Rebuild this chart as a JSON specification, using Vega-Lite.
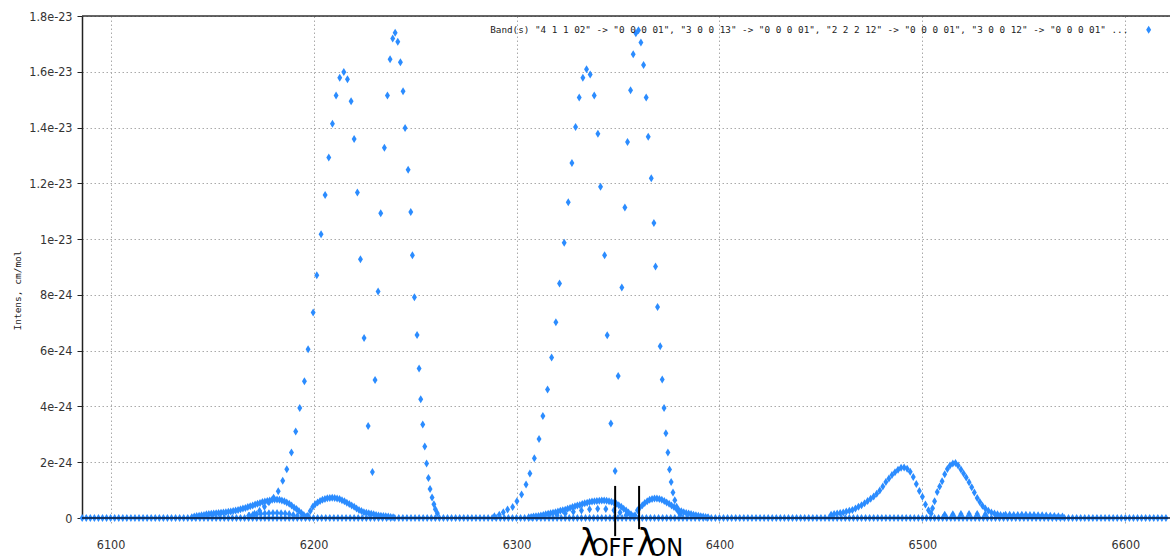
{
  "$schema": "https://vega.github.io/schema/vega-lite/v6.json",
  "autosize": "none",
  "width": 1088,
  "height": 502,
  "padding": {"left": 82, "top": 16, "right": 0, "bottom": 42},
  "background": "white",
  "config": {
    "view": {"stroke": null},
    "axis": {
      "labelFont": "Liberation Sans Narrow, DejaVu Sans Condensed, sans-serif",
      "labelFontSize": 12.5,
      "labelColor": "#333",
      "gridColor": "#aaa",
      "gridDash": [1.5, 2.5],
      "gridWidth": 1
    },
    "legend": {
      "orient": "none",
      "legendX": 1062,
      "legendY": 9,
      "padding": 0,
      "labelAlign": "right",
      "labelOffset": -25,
      "labelFont": "DejaVu Sans Mono",
      "labelFontSize": 9.3,
      "labelColor": "#222",
      "labelLimit": 2000,
      "symbolType": "M0,-1L0.62,0L0,1L-0.62,0Z",
      "symbolSize": 64,
      "symbolStrokeWidth": 0
    }
  },
  "datasets": {
    "baseline": [
      {"wn":6086,"intens":0},{"wn":6088,"intens":0},{"wn":6090,"intens":0},{"wn":6092,"intens":0},{"wn":6094,"intens":0},{"wn":6096,"intens":0},{"wn":6098,"intens":0},{"wn":6100,"intens":0},{"wn":6102,"intens":0},{"wn":6104,"intens":0},{"wn":6106,"intens":0},{"wn":6108,"intens":0},{"wn":6110,"intens":0},{"wn":6112,"intens":0},{"wn":6114,"intens":0},{"wn":6116,"intens":0},{"wn":6118,"intens":0},{"wn":6120,"intens":0},{"wn":6122,"intens":0},{"wn":6124,"intens":0},{"wn":6126,"intens":0},{"wn":6128,"intens":0},{"wn":6130,"intens":0},{"wn":6132,"intens":0},{"wn":6134,"intens":0},{"wn":6136,"intens":0},{"wn":6138,"intens":0},{"wn":6140,"intens":0},{"wn":6142,"intens":0},{"wn":6144,"intens":0},{"wn":6146,"intens":0},{"wn":6148,"intens":0},{"wn":6150,"intens":0},{"wn":6152,"intens":0},{"wn":6154,"intens":0},{"wn":6156,"intens":0},{"wn":6158,"intens":0},{"wn":6160,"intens":0},{"wn":6162,"intens":0},{"wn":6164,"intens":0},{"wn":6166,"intens":0},{"wn":6168,"intens":0},{"wn":6170,"intens":0},{"wn":6172,"intens":0},{"wn":6174,"intens":0},{"wn":6176,"intens":0},{"wn":6178,"intens":0},{"wn":6180,"intens":0},{"wn":6182,"intens":0},{"wn":6184,"intens":0},{"wn":6186,"intens":0},{"wn":6188,"intens":0},{"wn":6190,"intens":0},{"wn":6192,"intens":0},{"wn":6194,"intens":0},{"wn":6196,"intens":0},{"wn":6198,"intens":0},{"wn":6200,"intens":0},{"wn":6202,"intens":0},{"wn":6204,"intens":0},{"wn":6206,"intens":0},{"wn":6208,"intens":0},{"wn":6210,"intens":0},{"wn":6212,"intens":0},{"wn":6214,"intens":0},{"wn":6216,"intens":0},{"wn":6218,"intens":0},{"wn":6220,"intens":0},{"wn":6222,"intens":0},{"wn":6224,"intens":0},{"wn":6226,"intens":0},{"wn":6228,"intens":0},{"wn":6230,"intens":0},{"wn":6232,"intens":0},{"wn":6234,"intens":0},{"wn":6236,"intens":0},{"wn":6238,"intens":0},{"wn":6240,"intens":0},{"wn":6242,"intens":0},{"wn":6244,"intens":0},{"wn":6246,"intens":0},{"wn":6248,"intens":0},{"wn":6250,"intens":0},{"wn":6252,"intens":0},{"wn":6254,"intens":0},{"wn":6256,"intens":0},{"wn":6258,"intens":0},{"wn":6260,"intens":0},{"wn":6262,"intens":0},{"wn":6264,"intens":0},{"wn":6266,"intens":0},{"wn":6268,"intens":0},{"wn":6270,"intens":0},{"wn":6272,"intens":0},{"wn":6274,"intens":0},{"wn":6276,"intens":0},{"wn":6278,"intens":0},{"wn":6280,"intens":0},{"wn":6282,"intens":0},{"wn":6284,"intens":0},{"wn":6286,"intens":0},{"wn":6288,"intens":0},{"wn":6290,"intens":0},{"wn":6292,"intens":0},{"wn":6294,"intens":0},{"wn":6296,"intens":0},{"wn":6298,"intens":0},{"wn":6300,"intens":0},{"wn":6302,"intens":0},{"wn":6304,"intens":0},{"wn":6306,"intens":0},{"wn":6308,"intens":0},{"wn":6310,"intens":0},{"wn":6312,"intens":0},{"wn":6314,"intens":0},{"wn":6316,"intens":0},{"wn":6318,"intens":0},{"wn":6320,"intens":0},{"wn":6322,"intens":0},{"wn":6324,"intens":0},{"wn":6326,"intens":0},{"wn":6328,"intens":0},{"wn":6330,"intens":0},{"wn":6332,"intens":0},{"wn":6334,"intens":0},{"wn":6336,"intens":0},{"wn":6338,"intens":0},{"wn":6340,"intens":0},{"wn":6342,"intens":0},{"wn":6344,"intens":0},{"wn":6346,"intens":0},{"wn":6348,"intens":0},{"wn":6350,"intens":0},{"wn":6352,"intens":0},{"wn":6354,"intens":0},{"wn":6356,"intens":0},{"wn":6358,"intens":0},{"wn":6360,"intens":0},{"wn":6362,"intens":0},{"wn":6364,"intens":0},{"wn":6366,"intens":0},{"wn":6368,"intens":0},{"wn":6370,"intens":0},{"wn":6372,"intens":0},{"wn":6374,"intens":0},{"wn":6376,"intens":0},{"wn":6378,"intens":0},{"wn":6380,"intens":0},{"wn":6382,"intens":0},{"wn":6384,"intens":0},{"wn":6386,"intens":0},{"wn":6388,"intens":0},{"wn":6390,"intens":0},{"wn":6392,"intens":0},{"wn":6394,"intens":0},{"wn":6396,"intens":0},{"wn":6398,"intens":0},{"wn":6400,"intens":0},{"wn":6402,"intens":0},{"wn":6404,"intens":0},{"wn":6406,"intens":0},{"wn":6408,"intens":0},{"wn":6410,"intens":0},{"wn":6412,"intens":0},{"wn":6414,"intens":0},{"wn":6416,"intens":0},{"wn":6418,"intens":0},{"wn":6420,"intens":0},{"wn":6422,"intens":0},{"wn":6424,"intens":0},{"wn":6426,"intens":0},{"wn":6428,"intens":0},{"wn":6430,"intens":0},{"wn":6432,"intens":0},{"wn":6434,"intens":0},{"wn":6436,"intens":0},{"wn":6438,"intens":0},{"wn":6440,"intens":0},{"wn":6442,"intens":0},{"wn":6444,"intens":0},{"wn":6446,"intens":0},{"wn":6448,"intens":0},{"wn":6450,"intens":0},{"wn":6452,"intens":0},{"wn":6454,"intens":0},{"wn":6456,"intens":0},{"wn":6458,"intens":0},{"wn":6460,"intens":0},{"wn":6462,"intens":0},{"wn":6464,"intens":0},{"wn":6466,"intens":0},{"wn":6468,"intens":0},{"wn":6470,"intens":0},{"wn":6472,"intens":0},{"wn":6474,"intens":0},{"wn":6476,"intens":0},{"wn":6478,"intens":0},{"wn":6480,"intens":0},{"wn":6482,"intens":0},{"wn":6484,"intens":0},{"wn":6486,"intens":0},{"wn":6488,"intens":0},{"wn":6490,"intens":0},{"wn":6492,"intens":0},{"wn":6494,"intens":0},{"wn":6496,"intens":0},{"wn":6498,"intens":0},{"wn":6500,"intens":0},{"wn":6502,"intens":0},{"wn":6504,"intens":0},{"wn":6506,"intens":0},{"wn":6508,"intens":0},{"wn":6510,"intens":0},{"wn":6512,"intens":0},{"wn":6514,"intens":0},{"wn":6516,"intens":0},{"wn":6518,"intens":0},{"wn":6520,"intens":0},{"wn":6522,"intens":0},{"wn":6524,"intens":0},{"wn":6526,"intens":0},{"wn":6528,"intens":0},{"wn":6530,"intens":0},{"wn":6532,"intens":0},{"wn":6534,"intens":0},{"wn":6536,"intens":0},{"wn":6538,"intens":0},{"wn":6540,"intens":0},{"wn":6542,"intens":0},{"wn":6544,"intens":0},{"wn":6546,"intens":0},{"wn":6548,"intens":0},{"wn":6550,"intens":0},{"wn":6552,"intens":0},{"wn":6554,"intens":0},{"wn":6556,"intens":0},{"wn":6558,"intens":0},{"wn":6560,"intens":0},{"wn":6562,"intens":0},{"wn":6564,"intens":0},{"wn":6566,"intens":0},{"wn":6568,"intens":0},{"wn":6570,"intens":0},{"wn":6572,"intens":0},{"wn":6574,"intens":0},{"wn":6576,"intens":0},{"wn":6578,"intens":0},{"wn":6580,"intens":0},{"wn":6582,"intens":0},{"wn":6584,"intens":0},{"wn":6586,"intens":0},{"wn":6588,"intens":0},{"wn":6590,"intens":0},{"wn":6592,"intens":0},{"wn":6594,"intens":0},{"wn":6596,"intens":0},{"wn":6598,"intens":0},{"wn":6600,"intens":0},{"wn":6602,"intens":0},{"wn":6604,"intens":0},{"wn":6606,"intens":0},{"wn":6608,"intens":0},{"wn":6610,"intens":0},{"wn":6612,"intens":0},{"wn":6614,"intens":0},{"wn":6616,"intens":0},{"wn":6618,"intens":0},{"wn":6620,"intens":0}
    ],
    "lines": [
      {"wn":6140.0,"intens":0.03e-24},{"wn":6141.2,"intens":0.05e-24},{"wn":6142.4,"intens":0.07e-24},{"wn":6143.6,"intens":0.08e-24},{"wn":6144.8,"intens":0.10e-24},{"wn":6146.0,"intens":0.11e-24},{"wn":6147.2,"intens":0.13e-24},{"wn":6148.4,"intens":0.14e-24},{"wn":6149.6,"intens":0.15e-24},{"wn":6150.8,"intens":0.16e-24},{"wn":6152.0,"intens":0.17e-24},{"wn":6153.2,"intens":0.18e-24},{"wn":6154.4,"intens":0.19e-24},{"wn":6155.6,"intens":0.20e-24},{"wn":6156.8,"intens":0.21e-24},{"wn":6158.0,"intens":0.22e-24},{"wn":6159.2,"intens":0.23e-24},{"wn":6160.4,"intens":0.25e-24},{"wn":6161.6,"intens":0.27e-24},{"wn":6162.8,"intens":0.29e-24},{"wn":6164.0,"intens":0.31e-24},{"wn":6165.2,"intens":0.34e-24},{"wn":6166.4,"intens":0.36e-24},{"wn":6167.6,"intens":0.39e-24},{"wn":6168.8,"intens":0.42e-24},{"wn":6170.0,"intens":0.45e-24},{"wn":6171.2,"intens":0.48e-24},{"wn":6172.4,"intens":0.51e-24},{"wn":6173.6,"intens":0.54e-24},{"wn":6174.8,"intens":0.57e-24},{"wn":6176.0,"intens":0.59e-24},{"wn":6177.2,"intens":0.61e-24},{"wn":6178.4,"intens":0.63e-24},{"wn":6179.6,"intens":0.65e-24},{"wn":6180.8,"intens":0.66e-24},{"wn":6182.0,"intens":0.66e-24},{"wn":6183.2,"intens":0.65e-24},{"wn":6184.4,"intens":0.63e-24},{"wn":6185.6,"intens":0.60e-24},{"wn":6186.8,"intens":0.56e-24},{"wn":6188.0,"intens":0.51e-24},{"wn":6189.2,"intens":0.45e-24},{"wn":6190.4,"intens":0.38e-24},{"wn":6191.6,"intens":0.32e-24},{"wn":6192.8,"intens":0.25e-24},{"wn":6194.0,"intens":0.18e-24},{"wn":6195.2,"intens":0.11e-24},{"wn":6196.4,"intens":0.05e-24},
      {"wn":6168,"intens":0.08e-24},{"wn":6170,"intens":0.11e-24},{"wn":6172,"intens":0.13e-24},{"wn":6174,"intens":0.15e-24},{"wn":6176,"intens":0.16e-24},{"wn":6178,"intens":0.17e-24},{"wn":6180,"intens":0.18e-24},{"wn":6182,"intens":0.18e-24},{"wn":6184,"intens":0.17e-24},{"wn":6186,"intens":0.16e-24},{"wn":6188,"intens":0.14e-24},{"wn":6190,"intens":0.11e-24},{"wn":6192,"intens":0.07e-24},
      {"wn":6197.2,"intens":0.08e-24},{"wn":6198.4,"intens":0.25e-24},{"wn":6199.6,"intens":0.40e-24},{"wn":6200.8,"intens":0.49e-24},{"wn":6202.0,"intens":0.56e-24},{"wn":6203.2,"intens":0.61e-24},{"wn":6204.4,"intens":0.65e-24},{"wn":6205.6,"intens":0.68e-24},{"wn":6206.8,"intens":0.71e-24},{"wn":6208.0,"intens":0.72e-24},{"wn":6209.2,"intens":0.73e-24},{"wn":6210.4,"intens":0.72e-24},{"wn":6211.6,"intens":0.70e-24},{"wn":6212.8,"intens":0.68e-24},{"wn":6214.0,"intens":0.64e-24},{"wn":6215.2,"intens":0.60e-24},{"wn":6216.4,"intens":0.55e-24},{"wn":6217.6,"intens":0.50e-24},{"wn":6218.8,"intens":0.45e-24},{"wn":6220.0,"intens":0.40e-24},{"wn":6221.2,"intens":0.34e-24},{"wn":6222.4,"intens":0.29e-24},{"wn":6223.6,"intens":0.25e-24},{"wn":6224.8,"intens":0.21e-24},{"wn":6226.0,"intens":0.19e-24},{"wn":6227.2,"intens":0.17e-24},{"wn":6228.4,"intens":0.15e-24},{"wn":6229.6,"intens":0.13e-24},{"wn":6230.8,"intens":0.11e-24},{"wn":6232.0,"intens":0.09e-24},{"wn":6233.2,"intens":0.08e-24},{"wn":6234.4,"intens":0.07e-24},{"wn":6235.6,"intens":0.06e-24},{"wn":6236.8,"intens":0.05e-24},{"wn":6238.0,"intens":0.04e-24},{"wn":6239.2,"intens":0.03e-24},
      {"wn":6168.4,"intens":0.079e-24},{"wn":6170.9,"intens":0.151e-24},{"wn":6173.4,"intens":0.258e-24},{"wn":6175.8,"intens":0.402e-24},{"wn":6178.0,"intens":0.563e-24},{"wn":6180.3,"intens":0.724e-24},{"wn":6182.6,"intens":0.957e-24},{"wn":6184.8,"intens":1.334e-24},{"wn":6186.8,"intens":1.746e-24},{"wn":6189.1,"intens":2.345e-24},{"wn":6191.2,"intens":3.098e-24},{"wn":6193.2,"intens":3.944e-24},{"wn":6195.5,"intens":4.901e-24},{"wn":6197.3,"intens":6.049e-24},{"wn":6199.8,"intens":7.365e-24},{"wn":6201.6,"intens":8.702e-24},{"wn":6203.7,"intens":10.17e-24},{"wn":6205.7,"intens":11.58e-24},{"wn":6207.5,"intens":12.93e-24},{"wn":6209.3,"intens":14.14e-24},{"wn":6211.1,"intens":15.15e-24},{"wn":6212.9,"intens":15.79e-24},{"wn":6214.9,"intens":15.99e-24},{"wn":6216.7,"intens":15.73e-24},{"wn":6218.5,"intens":14.94e-24},{"wn":6220.0,"intens":13.59e-24},{"wn":6221.6,"intens":11.67e-24},{"wn":6223.1,"intens":9.276e-24},{"wn":6224.9,"intens":6.454e-24},{"wn":6226.9,"intens":3.299e-24},
      {"wn":6229.0,"intens":1.649e-24},{"wn":6230.3,"intens":4.948e-24},{"wn":6231.8,"intens":8.118e-24},{"wn":6233.1,"intens":10.93e-24},{"wn":6234.9,"intens":13.28e-24},{"wn":6236.4,"intens":15.15e-24},{"wn":6237.7,"intens":16.45e-24},{"wn":6239.0,"intens":17.19e-24},{"wn":6240.2,"intens":17.40e-24},{"wn":6241.5,"intens":17.08e-24},{"wn":6242.8,"intens":16.34e-24},{"wn":6244.1,"intens":15.30e-24},{"wn":6245.1,"intens":13.98e-24},{"wn":6246.6,"intens":12.49e-24},{"wn":6247.9,"intens":10.97e-24},{"wn":6248.7,"intens":9.419e-24},{"wn":6249.7,"intens":7.913e-24},{"wn":6251.0,"intens":6.561e-24},{"wn":6252.0,"intens":5.357e-24},{"wn":6252.8,"intens":4.256e-24},{"wn":6253.8,"intens":3.349e-24},{"wn":6254.8,"intens":2.560e-24},{"wn":6255.7,"intens":1.950e-24},{"wn":6256.6,"intens":1.434e-24},{"wn":6257.4,"intens":1.040e-24},{"wn":6258.4,"intens":0.731e-24},{"wn":6259.3,"intens":0.491e-24},{"wn":6260.0,"intens":0.312e-24},{"wn":6261.0,"intens":0.169e-24},
      {"wn":6306.0,"intens":0.03e-24},{"wn":6307.2,"intens":0.04e-24},{"wn":6308.4,"intens":0.05e-24},{"wn":6309.6,"intens":0.06e-24},{"wn":6310.8,"intens":0.07e-24},{"wn":6312.0,"intens":0.09e-24},{"wn":6313.2,"intens":0.11e-24},{"wn":6314.4,"intens":0.13e-24},{"wn":6315.6,"intens":0.15e-24},{"wn":6316.8,"intens":0.17e-24},{"wn":6318.0,"intens":0.19e-24},{"wn":6319.2,"intens":0.21e-24},{"wn":6320.4,"intens":0.23e-24},{"wn":6321.6,"intens":0.26e-24},{"wn":6322.8,"intens":0.28e-24},{"wn":6324.0,"intens":0.30e-24},{"wn":6325.2,"intens":0.33e-24},{"wn":6326.4,"intens":0.36e-24},{"wn":6327.6,"intens":0.39e-24},{"wn":6328.8,"intens":0.42e-24},{"wn":6330.0,"intens":0.45e-24},{"wn":6331.2,"intens":0.47e-24},{"wn":6332.4,"intens":0.50e-24},{"wn":6333.6,"intens":0.53e-24},{"wn":6334.8,"intens":0.55e-24},{"wn":6336.0,"intens":0.57e-24},{"wn":6337.2,"intens":0.59e-24},{"wn":6338.4,"intens":0.60e-24},{"wn":6339.6,"intens":0.61e-24},{"wn":6340.8,"intens":0.62e-24},{"wn":6342.0,"intens":0.63e-24},{"wn":6343.2,"intens":0.63e-24},{"wn":6344.4,"intens":0.62e-24},{"wn":6345.6,"intens":0.60e-24},{"wn":6346.8,"intens":0.58e-24},{"wn":6348.0,"intens":0.55e-24},{"wn":6349.2,"intens":0.51e-24},{"wn":6350.4,"intens":0.46e-24},{"wn":6351.6,"intens":0.40e-24},{"wn":6352.8,"intens":0.33e-24},{"wn":6354.0,"intens":0.27e-24},{"wn":6355.2,"intens":0.20e-24},{"wn":6356.4,"intens":0.13e-24},{"wn":6357.4,"intens":0.07e-24},
      {"wn":6320,"intens":0.10e-24},{"wn":6324,"intens":0.16e-24},{"wn":6328,"intens":0.22e-24},{"wn":6332,"intens":0.27e-24},{"wn":6336,"intens":0.31e-24},{"wn":6340,"intens":0.33e-24},{"wn":6344,"intens":0.32e-24},{"wn":6348,"intens":0.28e-24},{"wn":6351,"intens":0.20e-24},{"wn":6354,"intens":0.10e-24},
      {"wn":6358.4,"intens":0.10e-24},{"wn":6359.6,"intens":0.28e-24},{"wn":6360.8,"intens":0.38e-24},{"wn":6362.0,"intens":0.46e-24},{"wn":6363.2,"intens":0.54e-24},{"wn":6364.4,"intens":0.60e-24},{"wn":6365.6,"intens":0.65e-24},{"wn":6366.8,"intens":0.68e-24},{"wn":6368.0,"intens":0.70e-24},{"wn":6369.2,"intens":0.70e-24},{"wn":6370.4,"intens":0.68e-24},{"wn":6371.6,"intens":0.65e-24},{"wn":6372.8,"intens":0.61e-24},{"wn":6374.0,"intens":0.56e-24},{"wn":6375.2,"intens":0.51e-24},{"wn":6376.4,"intens":0.45e-24},{"wn":6377.6,"intens":0.39e-24},{"wn":6378.8,"intens":0.33e-24},{"wn":6380.0,"intens":0.28e-24},{"wn":6381.2,"intens":0.24e-24},{"wn":6382.4,"intens":0.21e-24},{"wn":6383.6,"intens":0.18e-24},{"wn":6384.8,"intens":0.16e-24},{"wn":6386.0,"intens":0.14e-24},{"wn":6387.2,"intens":0.12e-24},{"wn":6388.4,"intens":0.10e-24},{"wn":6389.6,"intens":0.08e-24},{"wn":6390.8,"intens":0.06e-24},{"wn":6392.0,"intens":0.05e-24},{"wn":6393.2,"intens":0.04e-24},{"wn":6394.4,"intens":0.03e-24},
      {"wn":6289.1,"intens":0.061e-24},{"wn":6291.5,"intens":0.115e-24},{"wn":6293.5,"intens":0.204e-24},{"wn":6295.6,"intens":0.301e-24},{"wn":6298.1,"intens":0.394e-24},{"wn":6300.2,"intens":0.599e-24},{"wn":6302.5,"intens":0.839e-24},{"wn":6304.7,"intens":1.198e-24},{"wn":6306.6,"intens":1.592e-24},{"wn":6308.8,"intens":2.141e-24},{"wn":6311.1,"intens":2.833e-24},{"wn":6313.0,"intens":3.657e-24},{"wn":6315.3,"intens":4.604e-24},{"wn":6317.3,"intens":5.751e-24},{"wn":6319.4,"intens":7.017e-24},{"wn":6321.2,"intens":8.408e-24},{"wn":6323.5,"intens":9.874e-24},{"wn":6325.5,"intens":11.32e-24},{"wn":6327.3,"intens":12.73e-24},{"wn":6329.1,"intens":14.02e-24},{"wn":6330.9,"intens":15.08e-24},{"wn":6332.7,"intens":15.79e-24},{"wn":6334.5,"intens":16.09e-24},{"wn":6336.3,"intens":15.90e-24},{"wn":6338.3,"intens":15.15e-24},{"wn":6340.1,"intens":13.78e-24},{"wn":6341.4,"intens":11.88e-24},{"wn":6343.4,"intens":9.419e-24},{"wn":6344.7,"intens":6.551e-24},{"wn":6346.5,"intens":3.385e-24},
      {"wn":6348.6,"intens":1.685e-24},{"wn":6350.1,"intens":5.091e-24},{"wn":6351.9,"intens":8.261e-24},{"wn":6353.4,"intens":11.13e-24},{"wn":6354.7,"intens":13.48e-24},{"wn":6356.2,"intens":15.34e-24},{"wn":6357.5,"intens":16.63e-24},{"wn":6358.8,"intens":17.38e-24},{"wn":6360.1,"intens":17.49e-24},{"wn":6361.3,"intens":17.05e-24},{"wn":6362.6,"intens":16.24e-24},{"wn":6363.9,"intens":15.08e-24},{"wn":6364.9,"intens":13.67e-24},{"wn":6366.4,"intens":12.18e-24},{"wn":6367.7,"intens":10.58e-24},{"wn":6368.5,"intens":9.014e-24},{"wn":6369.5,"intens":7.565e-24},{"wn":6370.8,"intens":6.156e-24},{"wn":6371.8,"intens":4.962e-24},{"wn":6372.7,"intens":3.944e-24},{"wn":6373.6,"intens":3.037e-24},{"wn":6374.6,"intens":2.345e-24},{"wn":6375.4,"intens":1.735e-24},{"wn":6376.2,"intens":1.291e-24},{"wn":6377.1,"intens":0.911e-24},{"wn":6378.0,"intens":0.635e-24},{"wn":6378.9,"intens":0.402e-24},{"wn":6379.7,"intens":0.240e-24},{"wn":6380.7,"intens":0.115e-24},
      {"wn":6455.0,"intens":0.12e-24},{"wn":6456.5,"intens":0.14e-24},{"wn":6458.0,"intens":0.16e-24},{"wn":6459.5,"intens":0.18e-24},{"wn":6461.0,"intens":0.20e-24},{"wn":6462.5,"intens":0.23e-24},{"wn":6464.0,"intens":0.26e-24},{"wn":6465.5,"intens":0.29e-24},{"wn":6467.0,"intens":0.34e-24},{"wn":6468.5,"intens":0.40e-24},{"wn":6470.0,"intens":0.46e-24},{"wn":6471.5,"intens":0.53e-24},{"wn":6473.0,"intens":0.61e-24},{"wn":6474.5,"intens":0.69e-24},{"wn":6476.0,"intens":0.77e-24},{"wn":6477.5,"intens":0.87e-24},{"wn":6479.0,"intens":0.99e-24},{"wn":6480.5,"intens":1.13e-24},{"wn":6482.0,"intens":1.29e-24},{"wn":6483.5,"intens":1.42e-24},{"wn":6485.0,"intens":1.54e-24},{"wn":6486.5,"intens":1.64e-24},{"wn":6488.0,"intens":1.73e-24},{"wn":6489.5,"intens":1.80e-24},{"wn":6491.0,"intens":1.81e-24},{"wn":6492.5,"intens":1.77e-24},{"wn":6494.0,"intens":1.66e-24},{"wn":6495.5,"intens":1.47e-24},{"wn":6497.0,"intens":1.22e-24},{"wn":6498.5,"intens":0.97e-24},{"wn":6500.0,"intens":0.76e-24},{"wn":6501.5,"intens":0.48e-24},{"wn":6503.0,"intens":0.28e-24},{"wn":6504.3,"intens":0.16e-24},
      {"wn":6505.0,"intens":0.35e-24},{"wn":6506.0,"intens":0.60e-24},{"wn":6507.3,"intens":0.93e-24},{"wn":6508.5,"intens":1.13e-24},{"wn":6509.7,"intens":1.32e-24},{"wn":6511.0,"intens":1.57e-24},{"wn":6512.3,"intens":1.76e-24},{"wn":6513.6,"intens":1.88e-24},{"wn":6515.0,"intens":1.95e-24},{"wn":6516.3,"intens":1.97e-24},{"wn":6517.6,"intens":1.88e-24},{"wn":6519.0,"intens":1.74e-24},{"wn":6520.3,"intens":1.60e-24},{"wn":6521.6,"intens":1.45e-24},{"wn":6523.0,"intens":1.28e-24},{"wn":6524.3,"intens":1.10e-24},{"wn":6525.6,"intens":0.91e-24},{"wn":6527.0,"intens":0.72e-24},{"wn":6528.3,"intens":0.57e-24},{"wn":6529.6,"intens":0.44e-24},{"wn":6531.0,"intens":0.34e-24},{"wn":6532.5,"intens":0.26e-24},{"wn":6534.0,"intens":0.20e-24},{"wn":6535.5,"intens":0.16e-24},{"wn":6537.0,"intens":0.13e-24},{"wn":6538.5,"intens":0.11e-24},{"wn":6540.0,"intens":0.09e-24},
      {"wn":6511,"intens":0.12e-24},{"wn":6515,"intens":0.13e-24},{"wn":6519,"intens":0.14e-24},{"wn":6523,"intens":0.14e-24},{"wn":6527,"intens":0.14e-24},{"wn":6531,"intens":0.13e-24},{"wn":6541,"intens":0.12e-24},{"wn":6543,"intens":0.12e-24},{"wn":6545,"intens":0.11e-24},{"wn":6547,"intens":0.11e-24},{"wn":6549,"intens":0.12e-24},{"wn":6551,"intens":0.12e-24},{"wn":6553,"intens":0.11e-24},{"wn":6555,"intens":0.11e-24},{"wn":6557,"intens":0.10e-24},{"wn":6559,"intens":0.10e-24},{"wn":6561,"intens":0.09e-24},{"wn":6563,"intens":0.08e-24},{"wn":6565,"intens":0.07e-24},{"wn":6567,"intens":0.06e-24},{"wn":6569,"intens":0.05e-24}
    ],
    "markers": [
      {"name":"OFF","wn":6348.6,"top":1.15e-24,"bottom":-0.65e-24},
      {"name":"ON","wn":6360.4,"top":1.15e-24,"bottom":-0.40e-24}
    ],
    "markerText": [
      {"text":"λ","part":"lambda","wn":6335.7,"intens":-1.36e-24},
      {"text":"OFF","part":"sub","wn":6347.4,"intens":-1.36e-24},
      {"text":"λ","part":"lambda","wn":6364.1,"intens":-1.36e-24},
      {"text":"ON","part":"sub","wn":6373.6,"intens":-1.36e-24}
    ]
  },
  "layer": [
    {
      "data": {"name": "baseline"},
      "mark": {"type": "point", "shape": "M0,-1L0.62,0L0,1L-0.62,0Z", "filled": true, "size": 64, "opacity": 1},
      "encoding": {
        "x": {"field": "wn", "type": "quantitative", "scale": {"domain": [6085.9, 6622.0], "nice": false, "zero": false},
          "axis": {"title": null, "values": [6100, 6200, 6300, 6400, 6500, 6600], "format": "d", "domain": false, "tickSize": 5, "tickColor": "#aaa", "tickDash": [1.5, 2], "labelPadding": 15, "grid": true}},
        "y": {"field": "intens", "type": "quantitative", "scale": {"domain": [0, 1.8e-23], "nice": false},
          "axis": {"title": "Intens, cm/mol", "titleFont": "DejaVu Sans Mono", "titleFontSize": 9.5, "titleFontWeight": "normal", "titleColor": "#222", "titleX": -60, "titleY": 274,
            "values": [0, 2e-24, 4e-24, 6e-24, 8e-24, 1e-23, 1.2e-23, 1.4e-23, 1.6e-23, 1.8e-23],
            "labelExpr": "datum.value === 0 ? '0' : format(datum.value, '.2~e')",
            "domainColor": "#222", "domainWidth": 1.5, "tickColor": "#222", "tickSize": 5, "labelPadding": 5, "grid": true}},
        "color": {"datum": "Band(s) \"4 1 1 02\" -> \"0 0 0 01\", \"3 0 0 13\" -> \"0 0 0 01\", \"2 2 2 12\" -> \"0 0 0 01\", \"3 0 0 12\" -> \"0 0 0 01\" ...", "type": "nominal", "scale": {"range": ["#2b8cff"]}, "legend": {"title": null}}
      }
    },
    {
      "data": {"name": "lines"},
      "mark": {"type": "point", "shape": "M0,-1L0.62,0L0,1L-0.62,0Z", "filled": true, "size": 64, "opacity": 1},
      "encoding": {
        "x": {"field": "wn", "type": "quantitative"},
        "y": {"field": "intens", "type": "quantitative"},
        "color": {"datum": "Band(s) \"4 1 1 02\" -> \"0 0 0 01\", \"3 0 0 13\" -> \"0 0 0 01\", \"2 2 2 12\" -> \"0 0 0 01\", \"3 0 0 12\" -> \"0 0 0 01\" ...", "type": "nominal"}
      }
    },
    {
      "data": {"values": [{}]},
      "mark": {"type": "rule", "color": "#0a1630", "strokeWidth": 1.5},
      "encoding": {"y": {"datum": 0}}
    },
    {
      "data": {"values": [{}]},
      "mark": {"type": "rule", "color": "#333", "strokeWidth": 1.5},
      "encoding": {"y": {"datum": 1.8e-23}}
    },
    {
      "data": {"name": "markers"},
      "mark": {"type": "rule", "color": "#000", "strokeWidth": 2},
      "encoding": {
        "x": {"field": "wn", "type": "quantitative"},
        "y": {"field": "top", "type": "quantitative"},
        "y2": {"field": "bottom"}
      }
    },
    {
      "data": {"name": "markerText"},
      "mark": {"type": "text", "font": "Liberation Sans Narrow, DejaVu Sans Condensed, sans-serif", "baseline": "alphabetic", "align": "center", "color": "#000"},
      "encoding": {
        "x": {"field": "wn", "type": "quantitative"},
        "y": {"field": "intens", "type": "quantitative"},
        "text": {"field": "text"},
        "size": {"field": "part", "type": "nominal", "scale": {"domain": ["lambda", "sub"], "range": [37, 25]}, "legend": null}
      }
    }
  ]
}
